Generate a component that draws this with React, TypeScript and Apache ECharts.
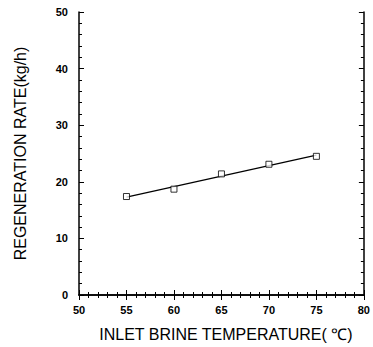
import React, { useEffect, useRef } from "react";
import * as echarts from "echarts";

const temperatures = [55, 60, 65, 70, 75];
const regenerationRates = [17.4, 18.7, 21.4, 23.1, 24.5];
const fitLine = [
  [55, 17.3],
  [75, 24.7],
];
const xTitle = "INLET BRINE TEMPERATURE( ℃)";
const yTitle = "REGENERATION RATE(kg/h)";

const FONT = "'Liberation Sans', Arial, sans-serif";

export default function App() {
  const ref = useRef<HTMLDivElement>(null);
  useEffect(() => {
    if (!ref.current) return;
    const chart = echarts.init(ref.current, undefined, { renderer: "svg" });
    const axisLine = { show: true, lineStyle: { color: "#000", width: 1.5 } };
    const tickBase = {
      show: true,
      inside: true,
      length: 5,
      lineStyle: { color: "#000", width: 1 },
    };
    const minorTick = {
      show: true,
      splitNumber: 5,
      length: 3,
      lineStyle: { color: "#000", width: 1 },
    };
    const label = {
      color: "#000",
      fontFamily: FONT,
      fontWeight: "bold" as const,
      fontSize: 11,
    };
    chart.setOption({
      animation: false,
      backgroundColor: "#fff",
      grid: { left: 79, right: 6, top: 12, bottom: 52, containLabel: false },
      xAxis: [
        {
          type: "value",
          position: "bottom",
          min: 50,
          max: 80,
          interval: 5,
          axisLine,
          axisTick: tickBase,
          minorTick,
          splitLine: { show: false },
          axisLabel: { ...label, margin: 9 },
          name: xTitle,
          nameLocation: "middle",
          nameGap: 31,
          nameTextStyle: {
            color: "#000",
            fontFamily: FONT,
            fontSize: 16,
            padding: [0, 0, 0, 9],
          },
        },
        {
          type: "value",
          position: "top",
          min: 50,
          max: 80,
          interval: 5,
          axisLine,
          axisTick: tickBase,
          minorTick,
          splitLine: { show: false },
          axisLabel: { show: false },
        },
      ],
      yAxis: [
        {
          type: "value",
          position: "left",
          min: 0,
          max: 50,
          interval: 10,
          axisLine,
          axisTick: tickBase,
          minorTick,
          splitLine: { show: false },
          axisLabel: { ...label, margin: 11 },
          name: yTitle,
          nameLocation: "middle",
          nameGap: 51,
          nameTextStyle: { color: "#000", fontFamily: FONT, fontSize: 16 },
        },
        {
          type: "value",
          position: "right",
          min: 0,
          max: 50,
          interval: 10,
          axisLine,
          axisTick: tickBase,
          minorTick,
          splitLine: { show: false },
          axisLabel: { show: false },
        },
      ],
      series: [
        {
          type: "line",
          data: fitLine,
          xAxisIndex: 0,
          yAxisIndex: 0,
          showSymbol: false,
          symbol: "none",
          lineStyle: { color: "#000", width: 1.2 },
          z: 2,
        },
        {
          type: "scatter",
          data: temperatures.map((t, i) => [t, regenerationRates[i]]),
          xAxisIndex: 0,
          yAxisIndex: 0,
          symbol: "rect",
          symbolSize: 6,
          itemStyle: { color: "#fff", borderColor: "#000", borderWidth: 1 },
          z: 3,
        },
      ],
    });
    return () => chart.dispose();
  }, []);
  return (
    <div
      ref={ref}
      style={{ position: "fixed", left: 0, top: 0, width: 373, height: 347 }}
    />
  );
}
